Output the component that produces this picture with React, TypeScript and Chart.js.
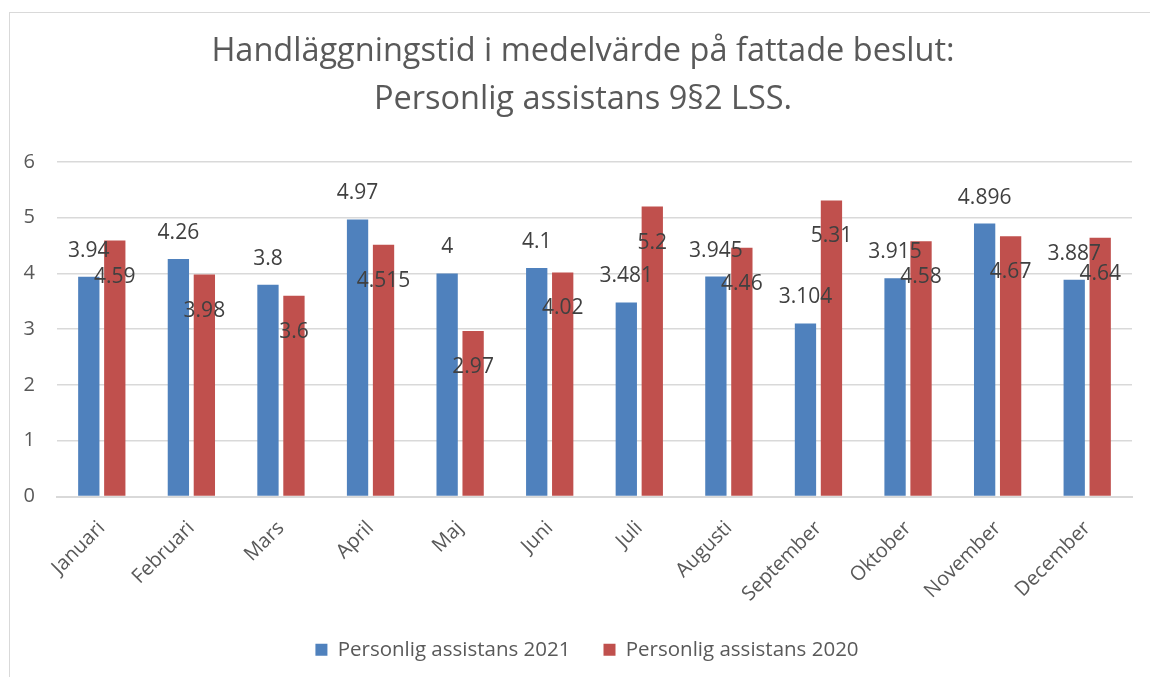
import React, { useEffect, useRef } from "react";
import { Chart, registerables } from "chart.js";

Chart.register(...registerables);

const titleLines = ["Handläggningstid i medelvärde på fattade beslut:", "Personlig assistans 9§2 LSS."];
const months = ["Januari", "Februari", "Mars", "April", "Maj", "Juni", "Juli", "Augusti", "September", "Oktober", "November", "December"];
const series2021 = [3.94, 4.26, 3.8, 4.97, 4, 4.1, 3.481, 3.945, 3.104, 3.915, 4.896, 3.887];
const series2020 = [4.59, 3.98, 3.6, 4.515, 2.97, 4.02, 5.2, 4.46, 5.31, 4.58, 4.67, 4.64];
const seriesNames = ["Personlig assistans 2021", "Personlig assistans 2020"];
const yTicks = [0, 1, 2, 3, 4, 5, 6];

const FONT = "'Open Sans', 'Noto Sans', sans-serif";

const dataLabelPlugin = {
  id: "dataLabels",
  afterDatasetsDraw(chart: any) {
    const ctx = chart.ctx;
    ctx.save();
    ctx.font = `21px ${FONT}`;
    ctx.fillStyle = "#404040";
    ctx.textAlign = "center";
    ctx.textBaseline = "middle";
    chart.data.datasets.forEach((ds: any, di: number) => {
      const meta = chart.getDatasetMeta(di);
      meta.data.forEach((bar: any, i: number) => {
        const v = ds.data[i];
        const y = di === 0 ? bar.y - 26 : bar.y + 36;
        ctx.fillText(String(v), bar.x, y);
      });
    });
    ctx.restore();
  },
};

const boxShiftPlugin = {
  id: "boxShift",
  afterLayout(chart: any) {
    const lg = chart.legend;
    if (lg) {
      lg.left += 16;
      lg.right += 16;
    }
    const tt = chart.titleBlock;
    if (tt) {
      tt.left += 12;
      tt.right += 12;
    }
  },
};

export default function App() {
  const ref = useRef<HTMLCanvasElement | null>(null);
  useEffect(() => {
    document.body.style.margin = "0";
    const chart = new Chart(ref.current as HTMLCanvasElement, {
      type: "bar",
      data: {
        labels: months,
        datasets: [
          { label: seriesNames[0], data: series2021, backgroundColor: "#4F81BD", categoryPercentage: 0.58, barPercentage: 0.82 },
          { label: seriesNames[1], data: series2020, backgroundColor: "#C0504D", categoryPercentage: 0.58, barPercentage: 0.82 },
        ],
      },
      options: {
        responsive: false,
        animation: false,
        devicePixelRatio: 1,
        layout: { padding: { top: 0, left: 10, right: 18, bottom: 7 } },
        plugins: {
          title: {
            display: true,
            text: titleLines,
            color: "#595959",
            font: { family: FONT, size: 32.5, weight: "normal", lineHeight: "48px" },
            padding: { top: 28, bottom: 38 },
          },
          legend: {
            position: "bottom",
            labels: {
              boxWidth: 12,
              boxHeight: 12,
              padding: 33,
              color: "#595959",
              font: { family: FONT, size: 20.5 },
            },
          },
          tooltip: { enabled: false },
        },
        scales: {
          x: {
            grid: { display: false },
            border: { display: true, color: "#D9D9D9", width: 2 },
            ticks: {
              color: "#595959",
              font: { family: FONT, size: 20 },
              minRotation: 45,
              maxRotation: 45,
              padding: 12,
              autoSkip: false,
            },
            afterFit(scale: any) {
              scale.height = 110;
            },
          },
          y: {
            min: 0,
            max: 6,
            afterBuildTicks(scale: any) {
              scale.ticks = yTicks.map((v) => ({ value: v }));
            },
            grid: { color: "#D9D9D9", lineWidth: 1.6, drawTicks: false },
            border: { display: false },
            ticks: {
              color: "#595959",
              font: { family: FONT, size: 20 },
              padding: 22,
            },
            afterFit(scale: any) {
              scale.width = 47;
            },
          },
        },
      },
      plugins: [dataLabelPlugin, boxShiftPlugin],
    } as any);
    return () => chart.destroy();
  }, []);
  return (
    <div style={{ position: "relative", width: 1150, height: 677, overflow: "hidden", background: "#fff" }}>
      <div
        style={{
          position: "absolute",
          left: 9,
          top: 12,
          width: 1200,
          height: 800,
          border: "1.5px solid #D9D9D9",
          boxSizing: "border-box",
        }}
      />
      <canvas ref={ref} width={1150} height={677} style={{ position: "absolute", left: 0, top: 0 }} />
    </div>
  );
}
